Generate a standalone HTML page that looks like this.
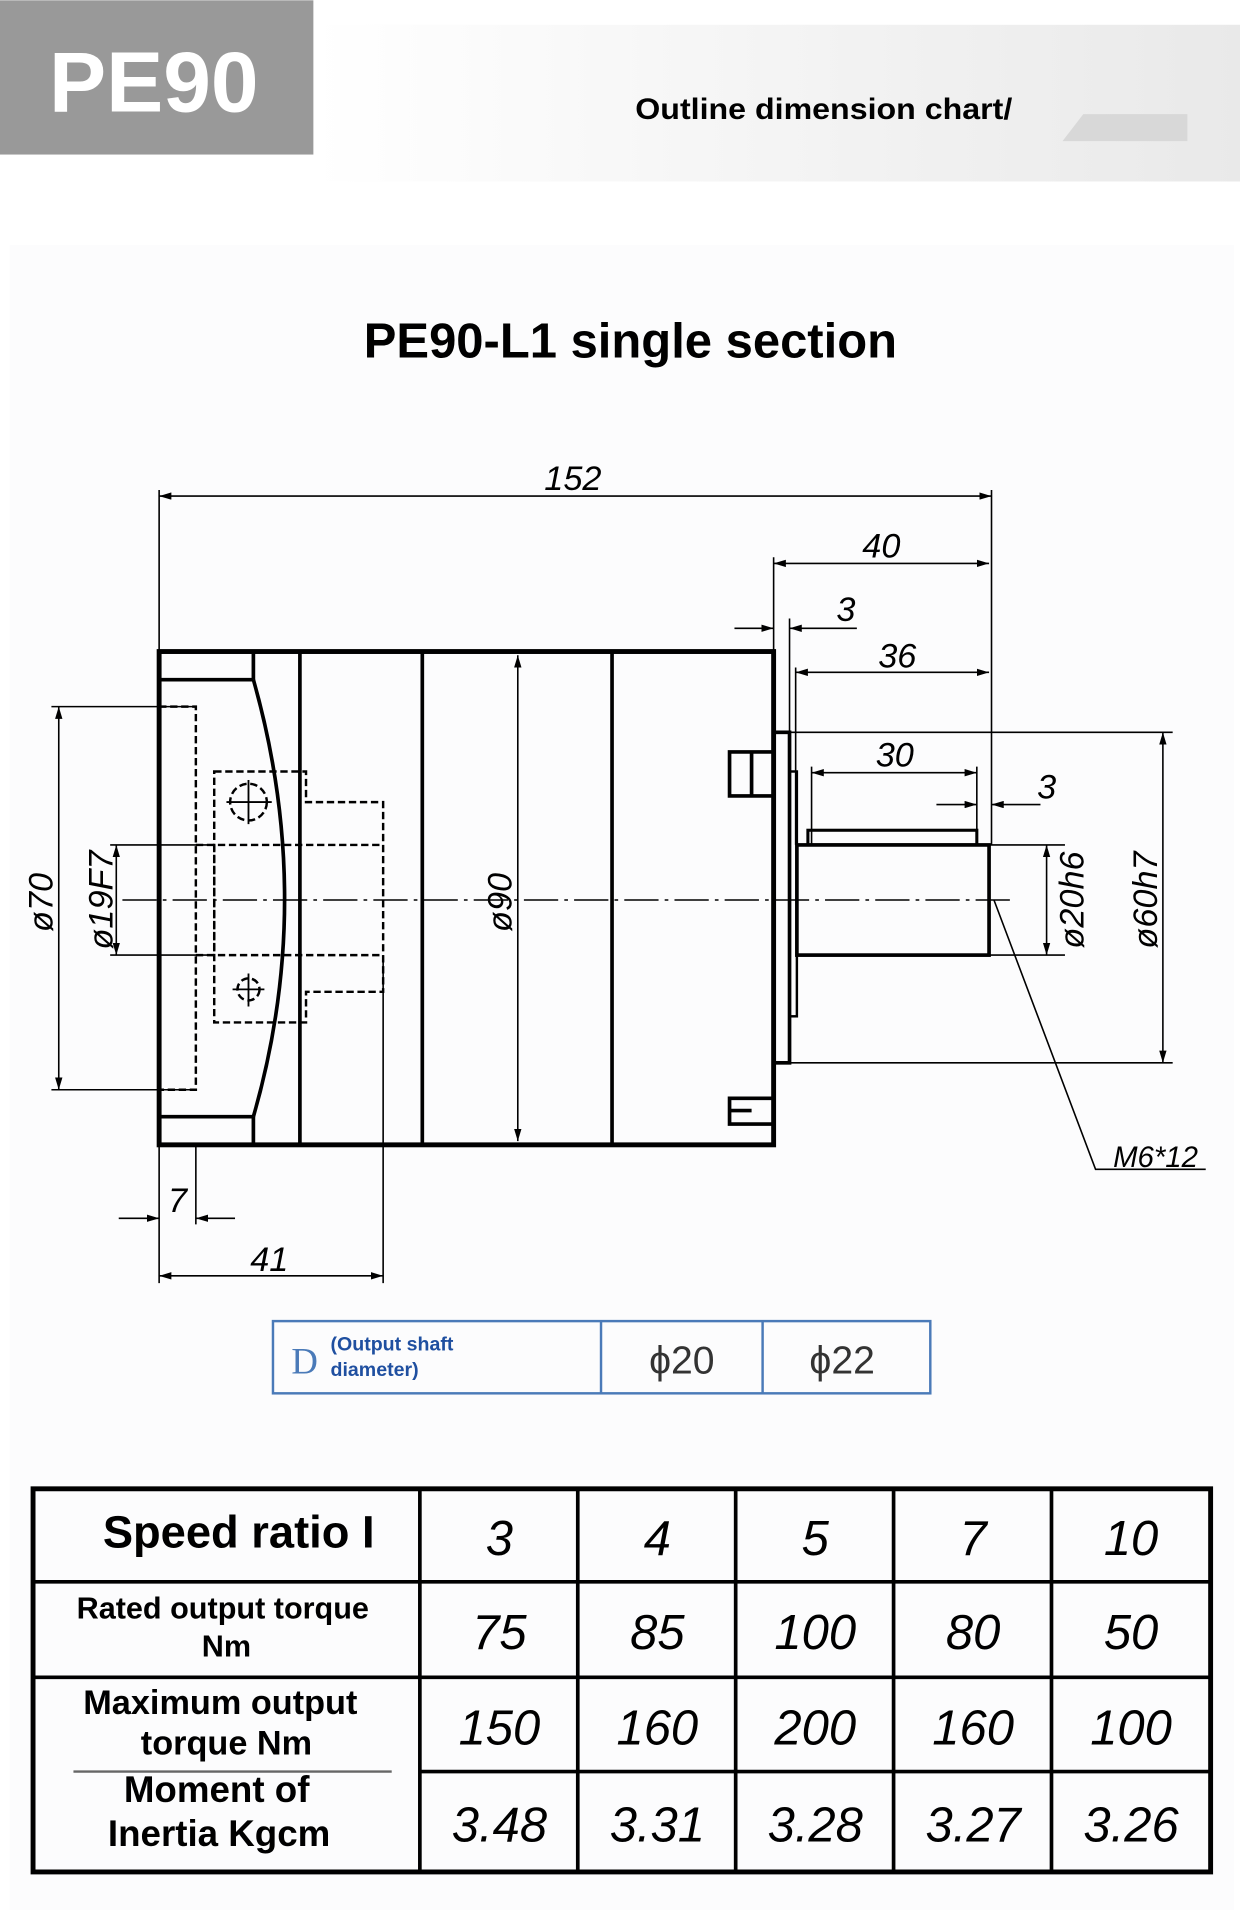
<!DOCTYPE html>
<html><head><meta charset="utf-8"><style>html,body{margin:0;padding:0;background:#fff}svg{display:block}</style></head><body>
<svg width="1240" height="1920" viewBox="0 0 1013 1568" xmlns="http://www.w3.org/2000/svg" font-family="Liberation Sans, sans-serif">
<defs>
<linearGradient id="hg" x1="0" x2="1"><stop offset="0" stop-color="#fff"/><stop offset="1" stop-color="#e9e9e9"/></linearGradient>
<marker id="a" viewBox="0 0 10 6" refX="10" refY="3" markerWidth="10" markerHeight="6" orient="auto-start-reverse" markerUnits="userSpaceOnUse"><path d="M0,0 L10,3 L0,6 z" fill="#000"/></marker>
</defs>
<rect width="1013" height="1568" fill="#fff"/>
<rect x="256" y="20" width="757" height="128" fill="url(#hg)"/>
<rect x="0" y="0" width="256" height="126" fill="#999"/>
<text x="40" y="91" font-size="70" font-weight="bold" fill="#fff">PE90</text>
<path d="M885,93 L970,93 L970,115 L868,115 z" fill="#d8d8d8"/>
<text x="519" y="97" font-size="24" font-weight="bold" textLength="308" lengthAdjust="spacingAndGlyphs">Outline dimension chart/</text>
<rect x="8" y="200" width="1000" height="1360" fill="#fcfcfd"/>
<text x="515" y="292" font-size="40" font-weight="bold" text-anchor="middle">PE90-L1 single section</text>

<g stroke="#000" fill="none">
<rect x="130" y="532" width="502" height="403" stroke-width="4"/>
<line x1="245" y1="532" x2="245" y2="935" stroke-width="3"/>
<line x1="345" y1="532" x2="345" y2="935" stroke-width="3"/>
<line x1="500" y1="532" x2="500" y2="935" stroke-width="3"/>
<path d="M130,555 H207 M130,912 H207 M207,532 V555 M207,912 V935" stroke-width="3"/>
<path d="M207,555 Q258,735 207,912" stroke-width="3"/>
<g stroke-dasharray="6,3" stroke-width="2">
<path d="M130,577 H160 V890 H130"/>
<path d="M175,630 H250 V655 H313 V810 H250 V835 H175 Z"/>
<path d="M160,690 H313 M160,780 H313 M175,690 V780"/>
<circle cx="203" cy="655" r="15"/><circle cx="203" cy="808" r="9"/>
</g>
<path d="M185,655 H222 M203,637 V673 M190,808 H216 M203,795 V822" stroke-width="1.5"/>
<line x1="100" y1="735" x2="830" y2="735" stroke-width="1.2" stroke-dasharray="28,5,3,5"/>
<rect x="632" y="598" width="13" height="270" stroke-width="3"/>
<rect x="645" y="630" width="6" height="200" stroke-width="2"/>
<rect x="651" y="690" width="157" height="90" stroke-width="3"/>
<rect x="660" y="678" width="138" height="12" stroke-width="2.5"/>
<path d="M632,614 H596 V650 H632 M614,614 V650 M632,897 H596 V918 H632 M596,907 H614" stroke-width="3"/>
<g stroke-width="1.3">
<path d="M130,400 V532 M810,400 V690 M632,455 V598 M645,505 V598 M650,545 V690 M663,626 V690 M798,626 V690 M645,598 H958 M645,868 H958 M808,690 H870 M808,780 H870 M42,577 H160 M42,890 H160 M90,690 H175 M90,780 H175 M130,935 V1048 M160,935 V1000 M313,780 V1048"/>
<line x1="130" y1="405" x2="810" y2="405" marker-start="url(#a)" marker-end="url(#a)"/>
<line x1="632" y1="460" x2="808" y2="460" marker-start="url(#a)" marker-end="url(#a)"/>
<line x1="600" y1="513" x2="632" y2="513" marker-end="url(#a)"/>
<line x1="700" y1="513" x2="645" y2="513" marker-end="url(#a)"/>
<line x1="650" y1="549" x2="808" y2="549" marker-start="url(#a)" marker-end="url(#a)"/>
<line x1="663" y1="631" x2="798" y2="631" marker-start="url(#a)" marker-end="url(#a)"/>
<line x1="765" y1="657" x2="798" y2="657" marker-end="url(#a)"/>
<line x1="850" y1="657" x2="810" y2="657" marker-end="url(#a)"/>
<line x1="855" y1="690" x2="855" y2="780" marker-start="url(#a)" marker-end="url(#a)"/>
<line x1="950" y1="598" x2="950" y2="868" marker-start="url(#a)" marker-end="url(#a)"/>
<line x1="48" y1="577" x2="48" y2="890" marker-start="url(#a)" marker-end="url(#a)"/>
<line x1="95" y1="690" x2="95" y2="780" marker-start="url(#a)" marker-end="url(#a)"/>
<line x1="423" y1="535" x2="423" y2="932" marker-start="url(#a)" marker-end="url(#a)"/>
<line x1="97" y1="995" x2="130" y2="995" marker-end="url(#a)"/>
<line x1="192" y1="995" x2="160" y2="995" marker-end="url(#a)"/>
<line x1="130" y1="1042" x2="313" y2="1042" marker-start="url(#a)" marker-end="url(#a)"/>
<path d="M812,735 L895,955 H985"/>
</g>
</g>
<g font-size="28" font-style="italic" font-family="Liberation Sans Narrow, Liberation Sans, sans-serif">
<text x="468" y="400" text-anchor="middle">152</text>
<text x="720" y="455" text-anchor="middle">40</text>
<text x="691" y="507" text-anchor="middle">3</text>
<text x="733" y="545" text-anchor="middle">36</text>
<text x="731" y="626" text-anchor="middle">30</text>
<text x="855" y="652" text-anchor="middle">3</text>
<text x="944" y="953" text-anchor="middle" font-size="24">M6*12</text>
<text x="145" y="990" text-anchor="middle">7</text>
<text x="220" y="1038" text-anchor="middle">41</text>
<text transform="translate(43,737) rotate(-90)" text-anchor="middle">ø70</text>
<text transform="translate(92,735) rotate(-90)" text-anchor="middle">ø19F7</text>
<text transform="translate(418,737) rotate(-90)" text-anchor="middle">ø90</text>
<text transform="translate(885,735) rotate(-90)" text-anchor="middle">ø20h6</text>
<text transform="translate(945,735) rotate(-90)" text-anchor="middle">ø60h7</text>
</g>

<g stroke="#4a7ab8" stroke-width="2" fill="none">
<rect x="223" y="1079" width="537" height="59"/>
<line x1="491" y1="1079" x2="491" y2="1138"/><line x1="623" y1="1079" x2="623" y2="1138"/>
</g>
<text x="238" y="1122" font-size="30" fill="#4a7ab8" font-family="Liberation Serif, serif">D</text>
<text x="270" y="1103" font-size="16" font-weight="bold" fill="#1f4fa0">(Output shaft</text>
<text x="270" y="1124" font-size="16" font-weight="bold" fill="#1f4fa0">diameter)</text>
<text x="557" y="1122" font-size="32" text-anchor="middle" fill="#333">ϕ20</text>
<text x="688" y="1122" font-size="32" text-anchor="middle" fill="#333">ϕ22</text>

<g stroke="#000" fill="none">
<rect x="27" y="1216" width="962" height="313" stroke-width="4"/>
<path d="M343,1216 V1529 M472,1216 V1529 M601,1216 V1529 M730,1216 V1529 M859,1216 V1529 M27,1292 H989 M27,1370 H989 M343,1447 H989" stroke-width="3"/>
<path d="M60,1447 H320" stroke-width="2" stroke="#666"/>
</g>
<g font-weight="bold" text-anchor="middle">
<text x="195" y="1264" font-size="37">Speed ratio I</text>
<text x="182" y="1322" font-size="25">Rated output torque</text>
<text x="185" y="1353" font-size="25">Nm</text>
<text x="180" y="1400" font-size="28">Maximum output</text>
<text x="185" y="1433" font-size="28">torque Nm</text>
<text x="177" y="1472" font-size="30">Moment of</text>
<text x="179" y="1508" font-size="30">Inertia Kgcm</text>
</g>
<g font-size="40" font-style="italic" text-anchor="middle" font-family="Liberation Sans Narrow, Liberation Sans, sans-serif">
<text x="408" y="1270">3</text><text x="537" y="1270">4</text><text x="666" y="1270">5</text><text x="795" y="1270">7</text><text x="924" y="1270">10</text>
<text x="408" y="1347">75</text><text x="537" y="1347">85</text><text x="666" y="1347">100</text><text x="795" y="1347">80</text><text x="924" y="1347">50</text>
<text x="408" y="1425">150</text><text x="537" y="1425">160</text><text x="666" y="1425">200</text><text x="795" y="1425">160</text><text x="924" y="1425">100</text>
<text x="408" y="1504">3.48</text><text x="537" y="1504">3.31</text><text x="666" y="1504">3.28</text><text x="795" y="1504">3.27</text><text x="924" y="1504">3.26</text>
</g>
</svg>
</body></html>
